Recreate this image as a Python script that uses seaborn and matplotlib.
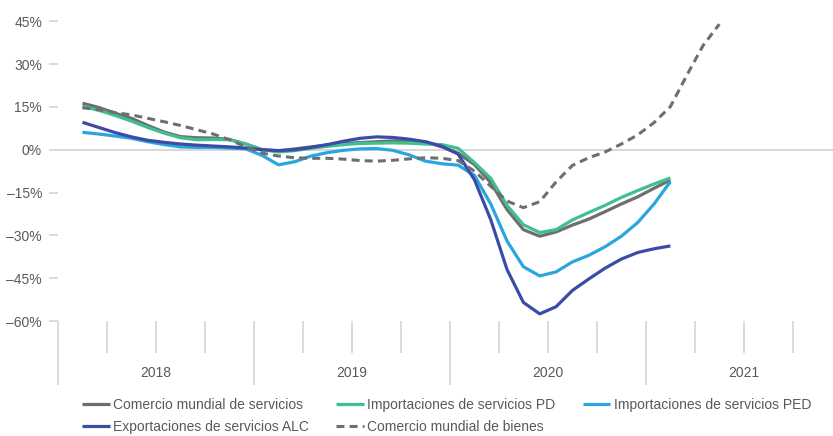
import numpy as np
import pandas as pd
import matplotlib
matplotlib.use("Agg")
import matplotlib.pyplot as plt
import seaborn as sns

# ---------------- data (monthly, % change) ----------------
years = ["2018", "2019", "2020", "2021"]
months_services = pd.period_range("2018-02", "2021-02", freq="M")
months_goods = pd.period_range("2018-02", "2021-05", freq="M")

comercio_servicios = [16.3, 14.8, 12.8, 11.0, 8.5, 6.2, 4.6, 4.2, 4.1, 3.6, 2.0, 0.0,
                      -0.4, 0.3, 1.0, 1.7, 2.2, 2.5, 2.8, 3.1, 3.2, 2.8, 1.0, -1.2,
                      -5.2, -11.5, -21.0, -28.0, -30.3, -28.8, -26.4, -24.3, -21.7,
                      -19.0, -16.5, -13.5, -10.6]
import_pd = [15.2, 13.8, 12.0, 10.0, 7.8, 5.8, 4.2, 3.5, 3.6, 3.5, 2.0, 0.0,
             -0.8, -0.3, 0.5, 1.2, 1.8, 2.2, 2.3, 2.4, 2.3, 2.0, 1.8, 0.5,
             -4.5, -10.0, -19.5, -26.3, -29.0, -28.0, -24.6, -22.0, -19.5,
             -16.7, -14.3, -12.0, -9.9]
import_ped = [6.1, 5.5, 4.8, 4.0, 2.8, 1.8, 1.0, 0.8, 0.8, 0.6, 0.3, -2.0,
              -5.3, -4.2, -2.2, -1.0, -0.2, 0.3, 0.4, -0.2, -1.8, -4.0, -4.9, -5.4,
              -9.0, -19.0, -32.0, -41.0, -44.2, -42.8, -39.3, -37.0, -34.0,
              -30.3, -25.5, -19.0, -11.2]
export_alc = [9.6, 7.8, 6.0, 4.5, 3.3, 2.6, 2.0, 1.6, 1.3, 1.0, 0.6, 0.0,
              -0.3, 0.0, 0.8, 1.8, 3.0, 4.0, 4.5, 4.3, 3.7, 2.8, 1.2, -1.5,
              -10.5, -24.5, -42.0, -53.5, -57.5, -55.0, -49.3, -45.3, -41.5,
              -38.3, -36.0, -34.7, -33.7]
comercio_bienes = [14.7, 14.0, 13.0, 12.2, 11.0, 9.8, 8.5, 7.0, 5.5, 3.5, 1.0, -1.2,
                   -2.2, -2.8, -3.0, -3.0, -3.3, -3.8, -4.0, -3.7, -3.2, -2.8, -3.0, -3.8,
                   -7.5, -12.8, -18.0, -20.3, -18.2, -11.3, -5.5, -2.8, -0.8,
                   2.0, 5.2, 9.5, 15.1, 26.0, 36.5, 44.0]

labels = ["Comercio mundial de servicios", "Importaciones de servicios PD",
          "Importaciones de servicios PED", "Exportaciones de servicios ALC",
          "Comercio mundial de bienes"]
colors = ["#6e6e70", "#3fc08f", "#29a6dd", "#3c4ba8", "#6e6e70"]

# ---------------- style ----------------
sns.set_theme(style="white")
plt.rcParams["font.family"] = ["Liberation Sans", "DejaVu Sans"]
TXT = "#595959"
GRID = "#d4d4d4"


def pos(periods):
    return np.array([(p.year - 2018) * 12 + (p.month - 1) + 0.5 for p in periods])


fig = plt.figure(figsize=(8.33, 4.36), dpi=100)
W, H = 833, 436
ax = fig.add_axes([58 / W, (H - 321) / H, (W - 58) / W, (321 - 13) / H])

ax.axhline(0, color=GRID, lw=1.3, zorder=1)

series = [
    (months_services, comercio_servicios),
    (months_services, import_pd),
    (months_services, import_ped),
    (months_services, export_alc),
    (months_goods, comercio_bienes),
]
handles = []
for i, ((per, vals), lab, col) in enumerate(zip(series, labels, colors)):
    df = pd.DataFrame({"x": pos(per), "y": vals})
    sns.lineplot(data=df, x="x", y="y", ax=ax, color=col,
                 lw=2.2 if i == 4 else 2.3, zorder=3, legend=False)
    line = ax.lines[-1]
    if i == 4:
        line.set_dashes((2.6, 1.7))
    line.set_solid_capstyle("butt")
    line.set_solid_joinstyle("round")
    line.set_label(lab)
    handles.append(line)

if ax.get_legend() is not None:
    ax.get_legend().remove()

ax.set_xlabel("")
ax.set_ylabel("")
for s in ax.spines.values():
    s.set_visible(False)

# y axis
yt = list(range(-60, 46, 15))
ax.set_yticks(yt)
ax.set_yticklabels([(f"–{abs(v)}%" if v < 0 else f"{v}%") for v in yt])
ax.tick_params(axis="y", length=6.5, width=1.2, color=GRID, pad=5,
               labelsize=10, labelcolor=TXT, left=True)

# x axis: year separators (major) and quarters (minor)
ax.set_xticks([0, 12, 24, 36])
ax.set_xticks([q for q in range(0, 48, 3) if q % 12 != 0], minor=True)
ax.tick_params(axis="x", which="major", length=46, width=1.2, color=GRID,
               labelbottom=False, bottom=True, direction="out")
ax.tick_params(axis="x", which="minor", length=23, width=1.2, color=GRID,
               labelbottom=False, bottom=True, direction="out")

ax.set_xlim(0, (W - 58) / 16.33)
ax.set_ylim(-60, 47.9)

trans = matplotlib.transforms.blended_transform_factory(ax.transData, ax.transAxes)
for k, y in enumerate(years):
    ax.text(k * 12 + 6, -52 / 308, y, transform=trans, ha="center", va="center",
            fontsize=10, color=TXT)

order = [0, 3, 1, 4, 2]
leg = fig.legend([handles[i] for i in order], [labels[i] for i in order],
                 loc="upper left", bbox_to_anchor=(82 / W, (H - 398) / H),
                 ncol=3, frameon=False, fontsize=10, handlelength=2.0,
                 handletextpad=0.25, columnspacing=1.95, labelspacing=0.55,
                 borderpad=0, borderaxespad=0)
for t in leg.get_texts():
    t.set_color(TXT)

fig.savefig("out.png", dpi=100)
